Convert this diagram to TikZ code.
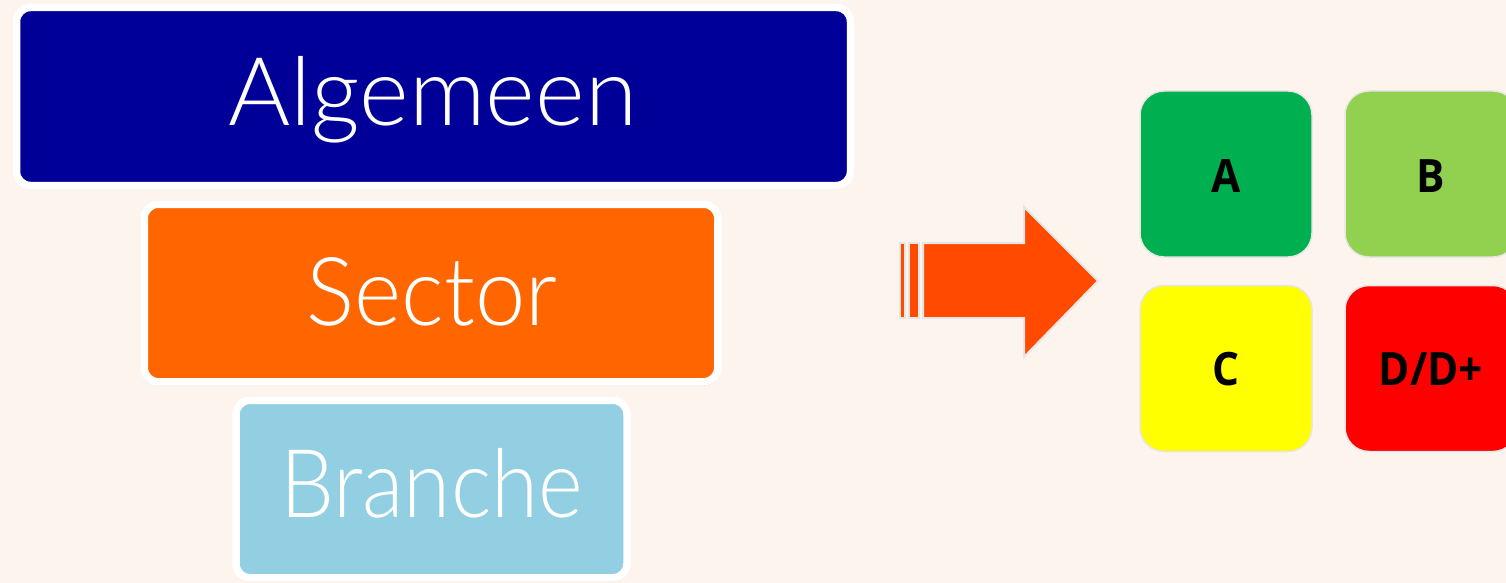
\documentclass[tikz,border=0pt]{standalone}
\usepackage{fontspec}
\setmainfont{Open Sans}
\newfontfamily\lightfont{Lato}[UprightFont={* Light}]
\newfontfamily\boldsans{Open Sans}[UprightFont={* Bold}]
\usetikzlibrary{shadows}
\definecolor{bgc}{HTML}{FDF4EE}
\definecolor{navy}{HTML}{000099}
\definecolor{orng}{HTML}{FF6600}
\definecolor{lblue}{HTML}{92CFE2}
\definecolor{arrowc}{HTML}{FF4A00}
\definecolor{edgegray}{HTML}{E8E6E4}
\definecolor{cA}{HTML}{00B050}
\definecolor{cB}{HTML}{92D050}
\definecolor{cC}{HTML}{FFFF00}
\definecolor{cD}{HTML}{FF0000}
\tikzset{
  bigbox/.style={draw=white, line width=7.5pt, rounded corners=14pt, inner sep=0pt,
     drop shadow={shadow xshift=1pt, shadow yshift=-3.5pt, opacity=0.45, fill=black!60}},
  bigtext/.style={text=white, font=\lightfont\fontsize{95}{95}\selectfont, anchor=base, inner sep=0pt},
  tile/.style={draw=edgegray, line width=1.5pt, rounded corners=24pt, inner sep=0pt,
     minimum width=172pt, minimum height=166pt},
  tiletext/.style={text=black, font=\boldsans\fontsize{46}{46}\selectfont, anchor=base, inner sep=0pt},
  arrowpart/.style={fill=arrowc, draw=edgegray, line width=2pt, line join=miter}
}
\begin{document}
\begin{tikzpicture}[x=1pt, y=-1pt]
\useasboundingbox (0,0) rectangle (1506,583);
\fill[bgc] (0,0) rectangle (1506,583);
% left stack
\node[bigbox, fill=navy, minimum width=834pt, minimum height=178pt] (alg) at (433.5,96.5) {};
\node[bigtext] (algt) at (433,125) {Algemeen};
\node[bigbox, fill=orng, minimum width=573.5pt, minimum height=177.5pt] (sec) at (431,293) {};
\node[bigtext] (sect) at (432,325) {\scalebox{0.95}[1]{Sector}};
\node[bigbox, fill=lblue, minimum width=391pt, minimum height=177.5pt] (bra) at (431.5,489) {};
\node[bigtext] (brat) at (431.5,517) {\scalebox{0.9}[1]{Branche}};
% arrow
\draw[arrowpart] (900,243) rectangle (905,318);
\draw[arrowpart] (909,243) rectangle (919,318);
\draw[arrowpart] (923,243) -- (1024,243) -- (1024,207) -- (1098,281) -- (1024,357) -- (1024,318) -- (923,318) -- cycle;
% tiles
\node[tile, fill=cA] (ta) at (1226,174) {};
\node[tiletext] (tat) at (1226,192) {\scalebox{0.92}[1]{A}};
\node[tile, fill=cB] (tb) at (1431,174) {};
\node[tiletext] (tbt) at (1431,192) {\scalebox{0.92}[1]{B}};
\node[tile, fill=cC] (tc) at (1226,368.5) {};
\node[tiletext] (tct) at (1226,385) {\scalebox{0.92}[1]{C}};
\node[tile, fill=cD] (td) at (1431,368.5) {};
\node[tiletext] (tdt) at (1431,385) {\scalebox{0.92}[1]{D/D+}};
\end{tikzpicture}
\end{document}
